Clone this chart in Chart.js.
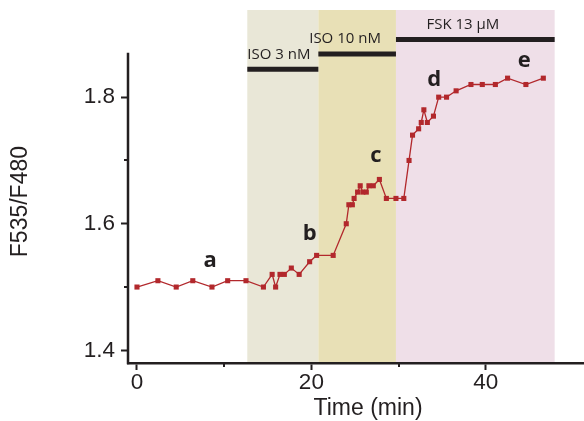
<!DOCTYPE html>
<html>
<head>
<meta charset="utf-8">
<script src="https://cdn.jsdelivr.net/npm/chart.js@4/dist/chart.umd.min.js"></script>
<style>
  html, body { margin: 0; padding: 0; background: #fff; }
  #wrap { width: 584px; height: 421px; }
</style>
</head>
<body>
<div id="wrap"><canvas id="chart"></canvas></div>
<script>
// F535/F480 ratio over time, with drug additions
const timeMin = [0, 2.4, 4.5, 6.4, 8.6, 10.4, 12.5, 14.5, 15.5, 15.9, 16.4, 16.9, 17.7, 18.6, 19.8,
  20.6, 22.5, 24.0, 24.3, 24.7, 24.9, 25.3, 25.6, 25.9, 26.3, 26.6, 27.1, 27.8, 28.6, 29.7,
  30.6, 31.2, 31.6, 32.3, 32.6, 32.9, 33.3, 34.0, 34.6, 35.5, 36.6, 38.3, 39.6, 41.1, 42.5, 44.6, 46.6];
const ratio = [1.50, 1.51, 1.50, 1.51, 1.50, 1.51, 1.51, 1.50, 1.52, 1.50, 1.52, 1.52, 1.53, 1.52, 1.54,
  1.55, 1.55, 1.60, 1.63, 1.63, 1.64, 1.65, 1.66, 1.65, 1.65, 1.66, 1.66, 1.67, 1.64, 1.64,
  1.64, 1.70, 1.74, 1.75, 1.76, 1.78, 1.76, 1.77, 1.80, 1.80, 1.81, 1.82, 1.82, 1.82, 1.83, 1.82, 1.83];

// treatment phases
const phaseNames  = ['ISO 3 nM', 'ISO 10 nM', 'FSK 13 µM'];
const phaseStart  = [12.65, 20.8, 29.7];
const phaseEnd    = [20.8, 29.7, 47.9];
const phaseLevel  = [1.844, 1.868, 1.891];
const phaseTextX  = [12.65, 19.75, 33.2];
const phaseColors = ['#e9e7d7', '#e8e0b6', '#efdfe8'];

// letter annotations
const markLetters = ['a', 'b', 'c', 'd', 'e'];
const markX = [8.4, 19.8, 27.4, 34.1, 44.4];
const markY = [1.541, 1.584, 1.708, 1.828, 1.858];

const xMajor = [0, 20, 40];
const xMinor = [10, 30];
const yMajor = [1.4, 1.6, 1.8];
const yMinor = [1.5, 1.7];
const yAxisTop = 1.87;
const xTitle = 'Time (min)';
const xTitleAt = 26.5;   // centre of the x title, minutes
const yTitle = 'F535/F480';
const yTitleAt = 1.635;  // centre of the rotated title, ratio units

const INK = '#231f20';
const RED = '#b2282c';
const AXIS_FONT = 'Liberation Sans';

const phaseBars = phaseNames.map((n, i) => ({
  label: n,
  data: [{ x: phaseStart[i], y: phaseLevel[i] }, { x: phaseEnd[i], y: phaseLevel[i] }],
  borderColor: INK, borderWidth: 5, pointRadius: 0, borderCapStyle: 'butt', order: 2
}));

const decor = {
  id: 'decor',
  beforeDraw(chart) {
    const { ctx, chartArea, scales: { x, y } } = chart;
    ctx.save();
    phaseStart.forEach((s, i) => {
      const x0 = x.getPixelForValue(s), x1 = x.getPixelForValue(phaseEnd[i]);
      ctx.fillStyle = phaseColors[i];
      ctx.fillRect(x0, chartArea.top, x1 - x0, chartArea.bottom - chartArea.top);
    });
    ctx.restore();
  },
  afterDraw(chart) {
    const { ctx, chartArea, scales: { x, y } } = chart;
    ctx.save();
    // y axis line, stops below the bars
    ctx.strokeStyle = INK;
    ctx.lineWidth = 2.5;
    ctx.beginPath();
    ctx.moveTo(chartArea.left, chartArea.bottom + 1.2);
    ctx.lineTo(chartArea.left, y.getPixelForValue(yAxisTop));
    ctx.stroke();
    // minor ticks
    ctx.lineWidth = 2;
    yMinor.forEach(v => {
      const py = Math.round(y.getPixelForValue(v));
      ctx.beginPath(); ctx.moveTo(chartArea.left - 4, py); ctx.lineTo(chartArea.left, py); ctx.stroke();
    });
    xMinor.forEach(v => {
      const px = Math.round(x.getPixelForValue(v));
      ctx.beginPath(); ctx.moveTo(px, chartArea.bottom); ctx.lineTo(px, chartArea.bottom + 4); ctx.stroke();
    });
    // axis titles (the originals are not centred on the plot)
    ctx.fillStyle = INK;
    ctx.font = `23px "${AXIS_FONT}"`;
    ctx.textAlign = 'center';
    ctx.textBaseline = 'middle';
    ctx.fillText(xTitle, x.getPixelForValue(xTitleAt), chartArea.bottom + 46);
    ctx.save();
    ctx.translate(21, y.getPixelForValue(yTitleAt));
    ctx.rotate(-Math.PI / 2);
    ctx.fillText(yTitle, 0, 0);
    ctx.restore();
    // phase labels
    ctx.font = '15px "Open Sans"';
    ctx.textAlign = 'left';
    phaseNames.forEach((n, i) => {
      ctx.fillText(n, x.getPixelForValue(phaseTextX[i]), y.getPixelForValue(phaseLevel[i]) - 15);
    });
    // letters
    ctx.font = 'bold 22px "Open Sans"';
    ctx.textAlign = 'center';
    markLetters.forEach((l, i) => {
      ctx.fillText(l, x.getPixelForValue(markX[i]), y.getPixelForValue(markY[i]));
    });
    ctx.restore();
  }
};

new Chart(document.getElementById('chart'), {
  type: 'line',
  data: {
    datasets: [
      {
        label: 'F535/F480',
        data: timeMin.map((t, i) => ({ x: t, y: ratio[i] })),
        borderColor: RED, backgroundColor: RED, borderWidth: 1.3,
        pointStyle: 'rect', pointRadius: 3.6, pointBorderWidth: 0,
        tension: 0, order: 1
      },
      ...phaseBars
    ]
  },
  options: {
    responsive: true,
    maintainAspectRatio: false,
    animation: false,
    layout: { autoPadding: false, padding: { top: 10, right: 1, left: 0, bottom: 0 } },
    plugins: { legend: { display: false }, tooltip: { enabled: false } },
    scales: {
      x: {
        type: 'linear', min: -1.03, max: 51.15,
        afterBuildTicks: s => { s.ticks = xMajor.map(v => ({ value: v })); },
        afterFit: s => { s.height = 58; s.paddingLeft = 0; s.paddingRight = 0; },
        grid: { drawOnChartArea: false, tickLength: 7, tickWidth: 2, tickColor: INK },
        border: { display: true, color: INK, width: 2.5 },
        ticks: { color: INK, padding: -1, font: { family: AXIS_FONT, size: 22.5 }, maxRotation: 0 },
        title: { display: false }
      },
      y: {
        min: 1.38, max: 1.9377,
        afterBuildTicks: s => { s.ticks = yMajor.map(v => ({ value: v })); },
        afterFit: s => { s.width = 128; s.paddingTop = 0; s.paddingBottom = 0; },
        grid: { drawOnChartArea: false, tickLength: 7, tickWidth: 2, tickColor: INK },
        border: { display: false },
        ticks: { color: INK, padding: 6, font: { family: AXIS_FONT, size: 22.5 },
          callback: v => v.toFixed(1) },
        title: { display: false }
      }
    }
  },
  plugins: [decor]
});
</script>
</body>
</html>
